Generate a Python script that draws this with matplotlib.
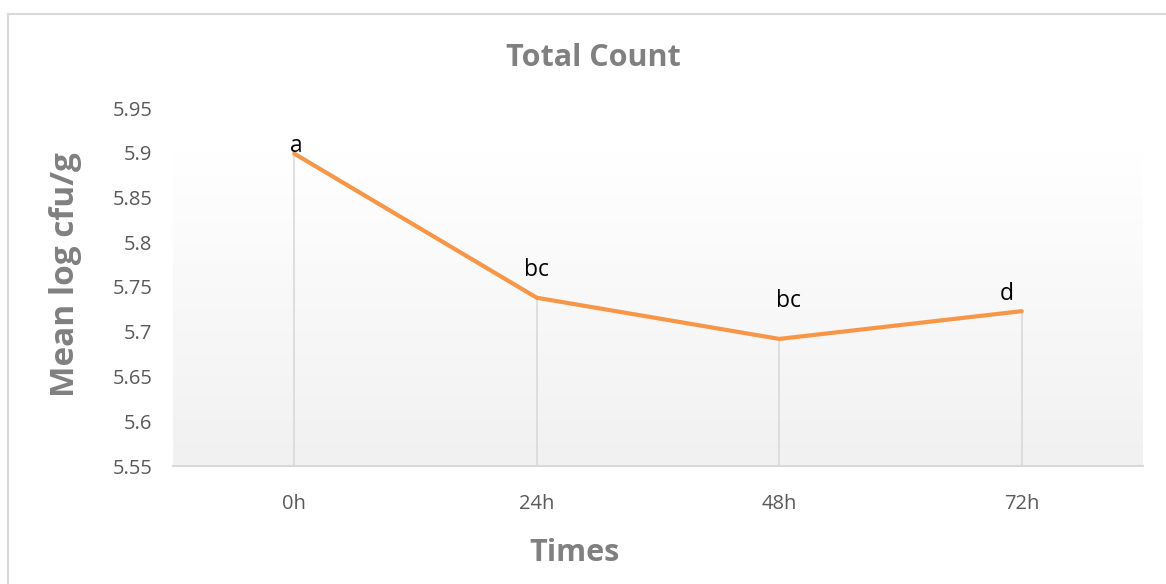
import matplotlib
matplotlib.use("Agg")
import matplotlib.pyplot as plt
import numpy as np
from matplotlib.lines import Line2D

categories = ["0h", "24h", "48h", "72h"]
values = [5.899, 5.738, 5.692, 5.723]
letters = ["a", "bc", "bc", "d"]
yticks = [5.55, 5.6, 5.65, 5.7, 5.75, 5.8, 5.85, 5.9, 5.95]
ytick_labels = ["5.55", "5.6", "5.65", "5.7", "5.75", "5.8", "5.85", "5.9", "5.95"]

plt.rcParams['font.family'] = ['Open Sans', 'DejaVu Sans']

fig = plt.figure(figsize=(11.66, 5.84), dpi=100)
fig.patch.set_facecolor("white")

# outer chart border
fig.add_artist(Line2D([7.5/1166, 7.5/1166], [0, 1 - 13.5/584], transform=fig.transFigure, color="#d9d9d9", lw=1.5))
fig.add_artist(Line2D([7.5/1166, 1], [1 - 13.5/584, 1 - 13.5/584], transform=fig.transFigure, color="#d9d9d9", lw=1.5))

ax = fig.add_axes([173/1166, (584-466)/584, (1143-173)/1166, (466-108)/584])
x = np.arange(len(categories))
ax.set_xlim(-0.5, len(categories) - 0.5)
ax.set_ylim(5.55, 5.95)

# gradient background (white to light gray), from 5.9 down to 5.55
grad = np.linspace(1.0, 0.0, 256).reshape(-1, 1)
top_c = np.array([1.0, 1.0, 1.0])
bot_c = np.array([0xf1, 0xf1, 0xf1]) / 255
img = grad[..., None] * top_c + (1 - grad[..., None]) * bot_c
ax.imshow(img, extent=[-0.5, len(categories) - 0.5, 5.55, 5.9], aspect="auto", origin="upper", zorder=0)

# drop lines
for xi, v in zip(x, values):
    ax.plot([xi, xi], [5.55, v], color="#d9d9d9", lw=1.2, zorder=1)

ax.plot(x, values, color="#f79646", lw=3, solid_capstyle="round", solid_joinstyle="round", zorder=3)

offsets = [(2, 8), (0, 28), (9, 38), (-15, 17)]
for xi, v, t, (dx, dy) in zip(x, values, letters, offsets):
    ax.annotate(t, (xi, v), xytext=(dx, dy), textcoords="offset pixels", ha="center", va="center",
                fontsize=16.5, color="black", zorder=4)

for s in ["top", "right", "left"]:
    ax.spines[s].set_visible(False)
ax.spines["bottom"].set_color("#d9d9d9")
ax.spines["bottom"].set_linewidth(1.5)

ax.set_xticks(x)
ax.set_xticklabels(categories)
ax.set_yticks(yticks)
ax.set_yticklabels(ytick_labels)
ax.tick_params(axis="both", length=0, labelsize=14.5, labelcolor="#595959")
ax.tick_params(axis="x", pad=20)
ax.tick_params(axis="y", pad=15)

fig.text(593/1166, 1 - 58/584, "Total Count", ha="center", va="center", fontsize=22,
         fontweight="bold", color="#808080")
fig.text(65/1166, 1 - 275/584, "Mean log cfu/g", ha="center", va="center", rotation=90,
         fontsize=24, fontweight="bold", color="#808080")
fig.text(575/1166, 1 - 553/584, "Times", ha="center", va="center", fontsize=22,
         fontweight="bold", color="#808080")

fig.savefig("out.png", dpi=100)
